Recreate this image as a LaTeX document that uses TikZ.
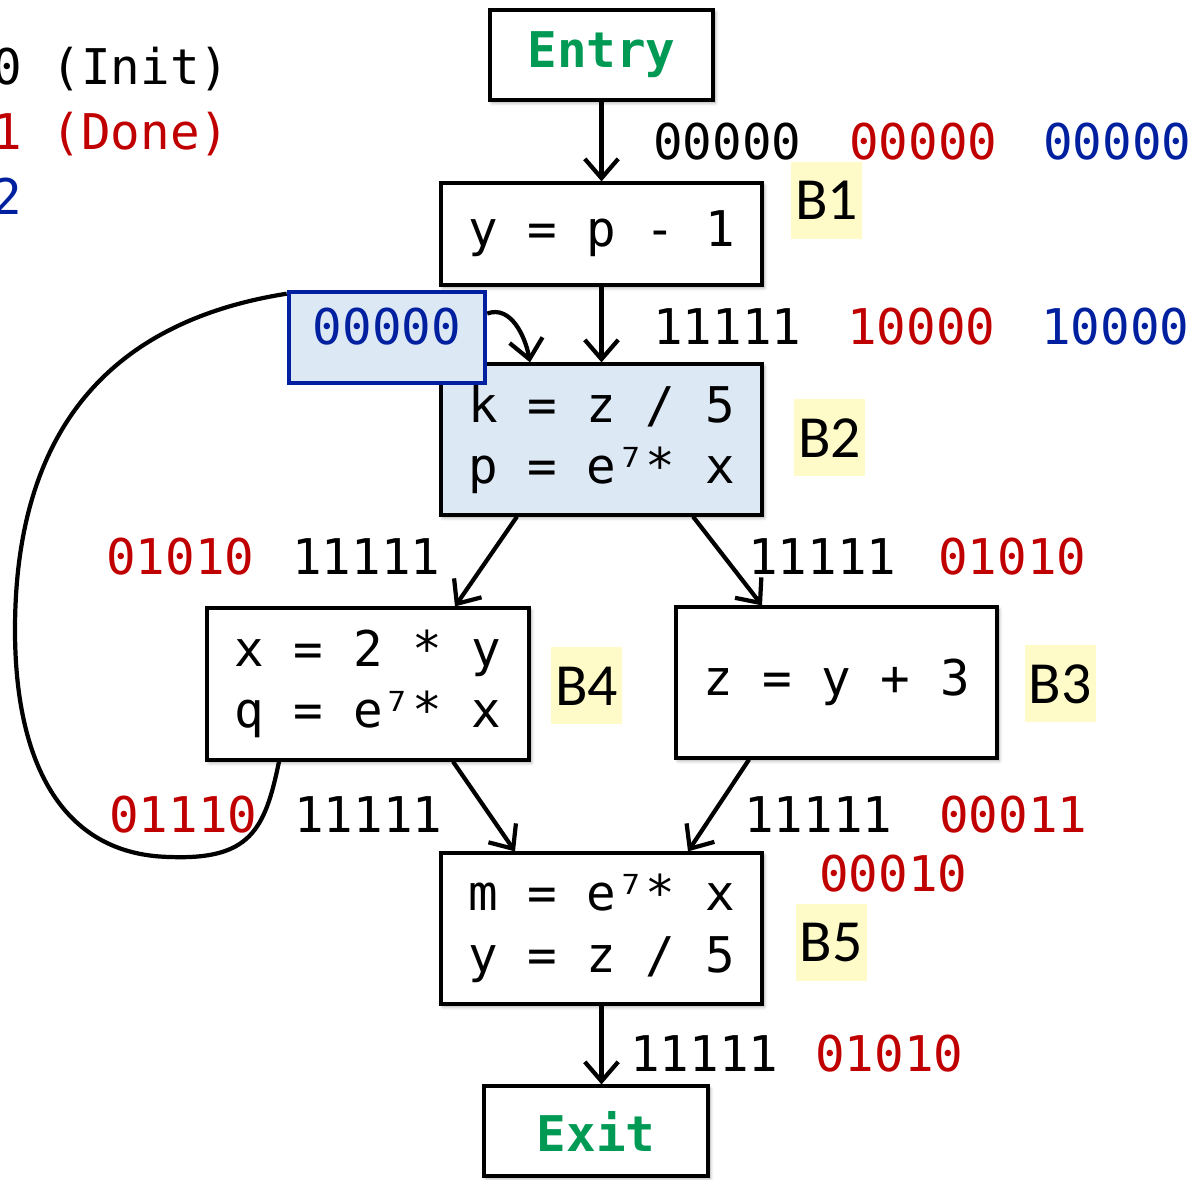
\documentclass[tikz,border=0pt]{standalone}
\usepackage{fontspec}
\setmonofont{DejaVu Sans Mono}
\newfontfamily\tagfont{Carlito}
\usetikzlibrary{arrows.meta, shadows.blur}

\definecolor{bitred}{HTML}{C00000}
\definecolor{bitblue}{HTML}{00209F}
\definecolor{termgreen}{HTML}{009A55}
\definecolor{blockblue}{HTML}{DDE8F5}
\definecolor{tagyellow}{HTML}{FFFBC8}

\tikzset{
  block/.style={draw, line width=1.8pt, fill=white, inner sep=0pt, align=center,
    font=\ttfamily\fontsize{28}{35}\selectfont,
    minimum width=6.42cm, minimum height=3.02cm,
    blur shadow={shadow blur steps=6, shadow xshift=1.2pt, shadow yshift=-1.5pt,
      shadow blur radius=2pt, shadow opacity=35}},
  term/.style={block, minimum width=4.46cm, minimum height=1.8cm,
    font=\ttfamily\bfseries\fontsize{28}{35}\selectfont, text=termgreen},
  tag/.style={fill=tagyellow, minimum width=1.42cm, minimum height=1.54cm,
    inner sep=0pt, font=\tagfont\fontsize{34}{40}\selectfont},
  bits/.style={anchor=base west, inner sep=0pt, font=\ttfamily\fontsize{28}{35}\selectfont},
  flow/.style={line width=2.4pt, -{Straight Barb[length=11pt, width=19pt]}},
  loop/.style={line width=2.4pt},
}

\begin{document}
\begin{tikzpicture}
  \useasboundingbox (0,0) rectangle (23.9,23.58);

  % Legend
  \node[bits] (init) at (-0.16,21.88) {0 (Init)};
  \node[bits, text=bitred] (done) at (-0.16,20.58) {1 (Done)};
  \node[bits, text=bitblue] (two) at (-0.16,19.28) {2};

  % Blocks
  \node[term] (entry) at (12.03,22.48) {Entry};
  \node[block, minimum height=2.04cm] (B1) at (12.03,18.90) {y = p - 1};
  \node[block, fill=blockblue] (B2) at (12.03,14.79) {k = z / 5\\p = e⁷* x};
  \node[block, minimum width=6.44cm, minimum height=3.04cm] (B4) at (7.36,9.90) {x = 2 * y\\q = e⁷* x};
  \node[block] (B3) at (16.73,9.93) {z = y + 3};
  \node[block] (B5) at (12.03,5.01) {m = e⁷* x\\y = z / 5};
  \node[term, minimum width=4.48cm] (exit) at (11.92,0.96) {Exit};

  % Tags
  \node[tag] (B1tag) at (16.53,19.57) {B1};
  \node[tag] (B2tag) at (16.59,14.82) {B2};
  \node[tag] (B4tag) at (11.73,9.86) {B4};
  \node[tag] (B3tag) at (21.20,9.90) {B3};
  \node[tag] (B5tag) at (16.62,4.73) {B5};

  % Edges
  \draw[flow] (entry) -- (B1);
  \draw[flow] (B1) -- (B2);
  \draw[flow] ([xshift=-1.69cm]B2.south) -- ([xshift=1.74cm]B4.north);
  \draw[flow] ([xshift=1.83cm]B2.south) -- ([xshift=-1.49cm]B3.north);
  \draw[flow] ([xshift=1.70cm]B4.south) -- ([xshift=-1.73cm]B5.north);
  \draw[flow] ([xshift=-1.75cm]B3.south) -- ([xshift=1.73cm]B5.north);
  \draw[flow] (B5.south) -- (B5.south |- exit.north);

  % Back edge B4 -> B2
  \node[draw=bitblue, line width=2.6pt, fill=blockblue, minimum width=3.92cm,
    minimum height=1.82cm, inner sep=0pt, text height=0.7cm, text depth=0.4cm,
    font=\ttfamily\fontsize{28}{35}\selectfont, text=bitblue] (loopbits) at (7.74,16.83) {00000};
  \draw[loop] ([xshift=-1.78cm]B4.south)
    .. controls (5.30,6.98) and (5.00,6.38) .. (3.40,6.44)
    .. controls (1.20,6.48) and (0.30,8.38) .. (0.30,10.98)
    .. controls (0.30,15.18) and (2.40,17.18) .. ([yshift=-0.08cm]loopbits.north west);
  \draw[flow] ([yshift=0.48cm]loopbits.east) to[out=20, in=100] ([xshift=-1.43cm]B2.north);

  % Bit vectors
  \node[bits] (in1a) at (13.06,20.38) {00000};
  \node[bits, text=bitred] (in1b) at (16.98,20.38) {00000};
  \node[bits, text=bitblue] (in1c) at (20.86,20.38) {00000};
  \node[bits] (in2a) at (13.06,16.68) {11111};
  \node[bits, text=bitred] (in2b) at (16.94,16.68) {10000};
  \node[bits, text=bitblue] (in2c) at (20.82,16.68) {10000};
  \node[bits, text=bitred] (in4b) at (2.12,12.08) {01010};
  \node[bits] (in4a) at (5.84,12.08) {11111};
  \node[bits] (in3a) at (14.96,12.08) {11111};
  \node[bits, text=bitred] (in3b) at (18.76,12.08) {01010};
  \node[bits, text=bitred] (out4b) at (2.18,6.92) {01110};
  \node[bits] (out4a) at (5.88,6.92) {11111};
  \node[bits] (out3a) at (14.88,6.92) {11111};
  \node[bits, text=bitred] (out3b) at (18.78,6.92) {00011};
  \node[bits, text=bitred] (in5b) at (16.38,5.74) {00010};
  \node[bits] (out5a) at (12.60,2.16) {11111};
  \node[bits, text=bitred] (out5b) at (16.30,2.16) {01010};
\end{tikzpicture}
\end{document}
